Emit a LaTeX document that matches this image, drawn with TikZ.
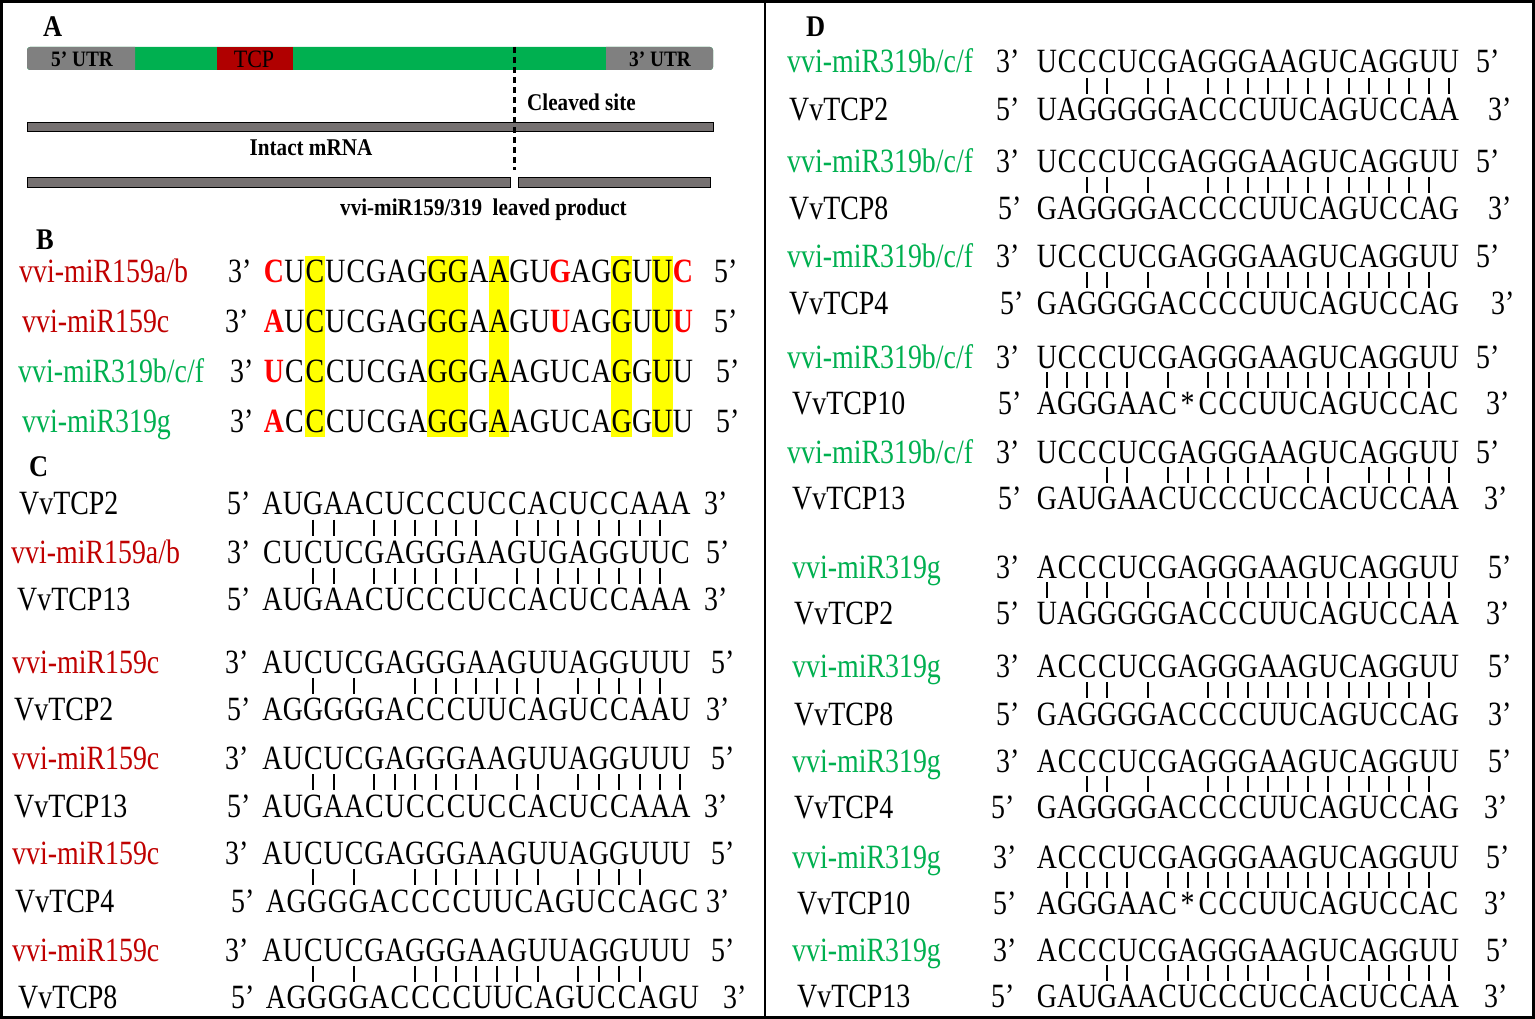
\documentclass[tikz,border=0pt]{standalone}
\usepackage{fontspec}
\setmainfont{Liberation Serif}
\newfontfamily\sq{Liberation Serif}[FakeStretch=0.82]
\newfontfamily\sqb{Liberation Serif}[FakeStretch=0.88]
\usetikzlibrary{calc}
\definecolor{mirred}{RGB}{192,0,0}
\definecolor{mirgreen}{RGB}{0,176,80}
\definecolor{hly}{RGB}{255,255,0}
\definecolor{barg}{RGB}{0,176,80}
\definecolor{utrgrey}{RGB}{128,128,128}
\definecolor{tcpred}{RGB}{176,0,0}
\definecolor{linegrey}{RGB}{118,113,113}
\def\seqfont{\sq\fontsize{34}{38}\selectfont}
\def\boldfont{\sqb\bfseries\fontsize{24}{28}\selectfont}
\def\panelfont{\sqb\bfseries\fontsize{30}{34}\selectfont}
\def\rl{\color{red}\bfseries}
\newcount\seqi
\def\seqrow#1#2#3#4#5{\def\sqid{#1}\def\sqx{#2}\def\sqp{#3}\def\sqy{#4}\global\seqi=0 \seqloop#5\relax}
\def\seqloop#1{\ifx\relax#1\else\global\advance\seqi by 1 \node[let,name=\sqid-\the\seqi] at ({\sqx+(\the\seqi-1)*\sqp},{\sqy+11}) {#1};\expandafter\seqloop\fi}
\newcommand\bars[4]{\foreach \k in {#4} {\draw[pairbar] ({round(#1+(\k-1)*#2)},{#3-8}) -- ++(0,16);}}
\tikzset{
  txt/.style={anchor=base west, inner sep=0pt, font=\seqfont},
  let/.style={anchor=base, inner sep=0pt, font=\seqfont},
  m159/.style={txt, text=mirred},
  m319/.style={txt, text=mirgreen},
  pairbar/.style={line width=2pt},
  hlbox/.style={fill=hly, draw=none},
  btxt/.style={inner sep=0pt, font=\boldfont},
  utrtxt/.style={inner sep=0pt, font=\sqb\bfseries\fontsize{22}{26}\selectfont},
  tcptxt/.style={inner sep=0pt, font=\sqb\fontsize{25}{28}\selectfont},
  panel/.style={anchor=base west, inner sep=0pt, font=\panelfont},
  rnabar/.style={fill=linegrey, draw=black, line width=0.6pt},
}
\begin{document}
\begin{tikzpicture}[x=1pt,y=-1pt]
\useasboundingbox (0,0) rectangle (1535,1019);
\fill[white] (0,0) rectangle (1535,1019);
% ---------------- Panel A ----------------
\node[panel] (pA) at (43,37) {A};
\fill[barg, rounded corners=3pt] (27,47) rectangle (713,70);
\fill[utrgrey] (135,47) [rounded corners=3pt] -- (27,47) -- (27,70) [sharp corners] -- (135,70) -- cycle;
\fill[utrgrey] (606,47) [rounded corners=3pt] -- (713,47) -- (713,70) [sharp corners] -- (606,70) -- cycle;
\fill[tcpred] (217,47) rectangle (293,70);
\node[utrtxt] (utr5) at (82,59) {5’ UTR};
\node[tcptxt] (tcp) at (254,59) {TCP};
\node[utrtxt] (utr3) at (660,59) {3’ UTR};
\draw[rnabar] (27,122) rectangle (713,131);
\draw[rnabar] (27,177) rectangle (510,187);
\draw[rnabar] (518,177) rectangle (710,187);
\coordinate (cuttop) at (514.5,47);
\coordinate (cutbot) at (514.5,170);
\draw[line width=2.2pt, dash pattern=on 6pt off 4pt] (cuttop) -- (cutbot);
\node[btxt, anchor=base west] (cleave) at (527,111) {Cleaved site};
\node[btxt, anchor=base] (intact) at (311,156) {Intact mRNA};
\node[btxt, anchor=base west] (prod) at (340,216) {vvi-miR159/319\ \ leaved product};
% ---------------- Panel B ----------------
\node[panel] (pB) at (36,250) {B};
\def\Bx{274}\def\Bp{20.45}
\foreach \a/\b in {3/3, 9/10, 12/12, 18/18, 20/20}
  \fill[hlbox] ({\Bx+(\a-1)*\Bp-10.2},256) rectangle ({\Bx+(\b-1)*\Bp+10.2},437);
\node[m159] (bl1) at (19,283) {vvi-miR159a/b};
\node[txt] (b1l) at (228,283) {3’};
\seqrow{b1}{\Bx}{\Bp}{272}{{\rl C}UCUCGAGGGAAGU{\rl G}AGGUU{\rl C}}
\node[txt] (b1r) at (714,283) {5’};
\node[m159] (bl2) at (22,332) {vvi-miR159c};
\node[txt] (b2l) at (225,332) {3’};
\seqrow{b2}{\Bx}{\Bp}{321}{{\rl A}UCUCGAGGGAAGU{\rl U}AGGUU{\rl U}}
\node[txt] (b2r) at (714,332) {5’};
\node[m319] (bl3) at (18,382) {vvi-miR319b/c/f};
\node[txt] (b3l) at (230,382) {3’};
\seqrow{b3}{\Bx}{\Bp}{371}{{\rl U}CCCUCGAGGGAAGUCAGGUU}
\node[txt] (b3r) at (716,382) {5’};
\node[m319] (bl4) at (22,432) {vvi-miR319g};
\node[txt] (b4l) at (230,432) {3’};
\seqrow{b4}{\Bx}{\Bp}{421}{{\rl A}CCCUCGAGGGAAGUCAGGUU}
\node[txt] (b4r) at (716,432) {5’};
% ---------------- Panel C ----------------
\node[panel] (pC) at (29,476) {C};
\def\Cx{272.5}\def\Cp{20.4}\def\Ctx{276}\def\Ctp{20.65}
% C1
\node[txt] (c1al) at (19,514) {VvTCP2};
\node[txt] (c1am) at (227,514) {5’};
\seqrow{c1a}{\Cx}{\Cp}{503}{AUGAACUCCCUCCA CUCCAAA}
\node[txt] (c1ar) at (704,514) {3’};
\bars{\Cx}{\Cp}{527.5}{3,4,6,7,8,9,10,11,13,14,15,16,17,18,19,20}
\node[m159] (c1bl) at (11,563) {vvi-miR159a/b};
\node[txt] (c1bm) at (227,563) {3’};
\seqrow{c1b}{\Cx}{\Cp}{552}{CUCUCGAGGGAAGUGAGGUUC}
\node[txt] (c1br) at (706,563) {5’};
\bars{\Cx}{\Cp}{575.5}{3,4,6,7,8,9,10,11,13,14,15,16,17,18,19,20}
\node[txt] (c1cl) at (17,610) {VvTCP13};
\node[txt] (c1cm) at (227,610) {5’};
\seqrow{c1c}{\Cx}{\Cp}{599}{AUGAACUCCCUCCA CUCCAAA}
\node[txt] (c1cr) at (704,610) {3’};
% C2
\node[m159] (c2al) at (12,673) {vvi-miR159c};
\node[txt] (c2am) at (225,673) {3’};
\seqrow{c2a}{\Cx}{\Cp}{662}{AUCUCGAGGGAAGUUAGGUUU}
\node[txt] (c2ar) at (711,673) {5’};
\bars{\Cx}{\Cp}{685.5}{3,5,8,9,10,11,12,13,14,16,17,18,19,20}
\node[txt] (c2bl) at (14,720) {VvTCP2};
\node[txt] (c2bm) at (227,720) {5’};
\seqrow{c2b}{\Cx}{\Cp}{709}{AGGGGGACCCUUCAGUCCAAU}
\node[txt] (c2br) at (706,720) {3’};
% C3
\node[m159] (c3al) at (12,769) {vvi-miR159c};
\node[txt] (c3am) at (225,769) {3’};
\seqrow{c3a}{\Cx}{\Cp}{758}{AUCUCGAGGGAAGUUAGGUUU}
\node[txt] (c3ar) at (711,769) {5’};
\bars{\Cx}{\Cp}{782}{3,4,6,7,8,9,10,11,13,14,16,17,18,19,20,21}
\node[txt] (c3bl) at (14,817) {VvTCP13};
\node[txt] (c3bm) at (227,817) {5’};
\seqrow{c3b}{\Cx}{\Cp}{806}{AUGAACUCCCUCCA CUCCAAA}
\node[txt] (c3br) at (704,817) {3’};
% C4
\node[m159] (c4al) at (12,864) {vvi-miR159c};
\node[txt] (c4am) at (225,864) {3’};
\seqrow{c4a}{\Cx}{\Cp}{853}{AUCUCGAGGGAAGUUAGGUUU}
\node[txt] (c4ar) at (711,864) {5’};
\bars{\Cx}{\Cp}{877}{3,5,8,9,10,11,12,13,14,16,17,18,19}
\node[txt] (c4bl) at (15,912) {VvTCP4};
\node[txt] (c4bm) at (231,912) {5’};
\seqrow{c4b}{\Ctx}{\Ctp}{901}{AGGGGACCCCUUCAGUCCAGC}
\node[txt] (c4br) at (706,912) {3’};
% C5
\node[m159] (c5al) at (12,961) {vvi-miR159c};
\node[txt] (c5am) at (225,961) {3’};
\seqrow{c5a}{\Cx}{\Cp}{950}{AUCUCGAGGGAAGUUAGGUUU}
\node[txt] (c5ar) at (711,961) {5’};
\bars{\Cx}{\Cp}{973.5}{3,5,8,9,10,11,12,13,14,16,17,18,19}
\node[txt] (c5bl) at (18,1008) {VvTCP8};
\node[txt] (c5bm) at (231,1008) {5’};
\seqrow{c5b}{\Ctx}{\Ctp}{997}{AGGGGACCCCUUCAGUCCAGU}
\node[txt] (c5br) at (723,1008) {3’};
% ---------------- Panel D ----------------
\node[panel] (pD) at (806,37) {D};
\def\Dx{1047}\def\Dp{20.1}
% D1
\node[m319] (d1al) at (787,73) {vvi-miR319b/c/f};
\node[txt] (d1am) at (996,73) {3’};
\seqrow{d1a}{\Dx}{\Dp}{62}{UCCCUCGAGGGAAGUCAGGUU}
\node[txt] (d1ar) at (1476,73) {5’};
\bars{\Dx}{\Dp}{86}{3,4,6,7,9,10,11,12,13,14,15,16,17,18,19,20,21}
\node[txt] (d1bl) at (789,121) {VvTCP2};
\node[txt] (d1bm) at (996,121) {5’};
\seqrow{d1b}{\Dx}{\Dp}{110}{UAGGGGGACCCUUCAGUCCAA}
\node[txt] (d1br) at (1488,121) {3’};
% D2
\node[m319] (d2al) at (787,173) {vvi-miR319b/c/f};
\node[txt] (d2am) at (996,173) {3’};
\seqrow{d2a}{\Dx}{\Dp}{162}{UCCCUCGAGGGAAGUCAGGUU}
\node[txt] (d2ar) at (1476,173) {5’};
\bars{\Dx}{\Dp}{185.5}{3,4,6,9,10,11,12,13,14,15,16,17,18,19,20}
\node[txt] (d2bl) at (789,220) {VvTCP8};
\node[txt] (d2bm) at (998,220) {5’};
\seqrow{d2b}{\Dx}{\Dp}{209}{GAGGGGACCCCUUCAGUCCAG}
\node[txt] (d2br) at (1488,220) {3’};
% D3
\node[m319] (d3al) at (787,268) {vvi-miR319b/c/f};
\node[txt] (d3am) at (996,268) {3’};
\seqrow{d3a}{\Dx}{\Dp}{257}{UCCCUCGAGGGAAGUCAGGUU}
\node[txt] (d3ar) at (1476,268) {5’};
\bars{\Dx}{\Dp}{280.5}{3,4,6,9,10,11,12,13,14,15,16,17,18,19,20}
\node[txt] (d3bl) at (789,315) {VvTCP4};
\node[txt] (d3bm) at (1000,315) {5’};
\seqrow{d3b}{\Dx}{\Dp}{304}{GAGGGGACCCCUUCAGUCCAG}
\node[txt] (d3br) at (1491,315) {3’};
% D4
\node[m319] (d4al) at (787,368) {vvi-miR319b/c/f};
\node[txt] (d4am) at (996,368) {3’};
\seqrow{d4a}{\Dx}{\Dp}{357}{UCCCUCGAGGGAAGUCAGGUU}
\node[txt] (d4ar) at (1476,368) {5’};
\bars{\Dx}{\Dp}{380}{1,2,3,4,5,7,9,10,11,12,13,14,15,16,17,18,19,20}
\node[txt] (d4bl) at (792,414) {VvTCP10};
\node[txt] (d4bm) at (998,414) {5’};
\seqrow{d4b}{\Dx}{\Dp}{403}{AGGGAAC*CCCUUCAGUCCAC}
\node[txt] (d4br) at (1486,414) {3’};
% D5
\node[m319] (d5al) at (787,463) {vvi-miR319b/c/f};
\node[txt] (d5am) at (996,463) {3’};
\seqrow{d5a}{\Dx}{\Dp}{452}{UCCCUCGAGGGAAGUCAGGUU}
\node[txt] (d5ar) at (1476,463) {5’};
\bars{\Dx}{\Dp}{475}{4,5,7,8,9,10,11,12,14,15,17,18,19,20,21}
\node[txt] (d5bl) at (792,509) {VvTCP13};
\node[txt] (d5bm) at (998,509) {5’};
\seqrow{d5b}{\Dx}{\Dp}{498}{GAUGAACUCCCUCCACUCCAA}
\node[txt] (d5br) at (1484,509) {3’};
% D6
\node[m319] (d6al) at (792,578) {vvi-miR319g};
\node[txt] (d6am) at (996,578) {3’};
\seqrow{d6a}{\Dx}{\Dp}{567}{ACCCUCGAGGGAAGUCAGGUU}
\node[txt] (d6ar) at (1488,578) {5’};
\bars{\Dx}{\Dp}{590}{1,3,4,6,9,10,11,12,13,14,15,16,17,18,19,20,21}
\node[txt] (d6bl) at (794,624) {VvTCP2};
\node[txt] (d6bm) at (996,624) {5’};
\seqrow{d6b}{\Dx}{\Dp}{613}{UAGGGGGACCCUUCAGUCCAA}
\node[txt] (d6br) at (1486,624) {3’};
% D7
\node[m319] (d7al) at (792,677) {vvi-miR319g};
\node[txt] (d7am) at (996,677) {3’};
\seqrow{d7a}{\Dx}{\Dp}{666}{ACCCUCGAGGGAAGUCAGGUU}
\node[txt] (d7ar) at (1488,677) {5’};
\bars{\Dx}{\Dp}{690}{3,4,6,9,10,11,12,13,14,15,16,17,18,19,20}
\node[txt] (d7bl) at (794,725) {VvTCP8};
\node[txt] (d7bm) at (996,725) {5’};
\seqrow{d7b}{\Dx}{\Dp}{714}{GAGGGGACCCCUUCAGUCCAG}
\node[txt] (d7br) at (1488,725) {3’};
% D8
\node[m319] (d8al) at (792,772) {vvi-miR319g};
\node[txt] (d8am) at (996,772) {3’};
\seqrow{d8a}{\Dx}{\Dp}{761}{ACCCUCGAGGGAAGUCAGGUU}
\node[txt] (d8ar) at (1488,772) {5’};
\bars{\Dx}{\Dp}{784}{3,4,6,9,10,11,12,13,14,15,16,17,18,19,20}
\node[txt] (d8bl) at (794,818) {VvTCP4};
\node[txt] (d8bm) at (991,818) {5’};
\seqrow{d8b}{\Dx}{\Dp}{807}{GAGGGGACCCCUUCAGUCCAG}
\node[txt] (d8br) at (1484,818) {3’};
% D9
\node[m319] (d9al) at (792,868) {vvi-miR319g};
\node[txt] (d9am) at (993,868) {3’};
\seqrow{d9a}{\Dx}{\Dp}{857}{ACCCUCGAGGGAAGUCAGGUU}
\node[txt] (d9ar) at (1486,868) {5’};
\bars{\Dx}{\Dp}{880}{2,3,4,5,7,8,9,10,11,12,13,14,15,16,17,18,19,20}
\node[txt] (d9bl) at (797,914) {VvTCP10};
\node[txt] (d9bm) at (993,914) {5’};
\seqrow{d9b}{\Dx}{\Dp}{903}{AGGGAAC*CCCUUCAGUCCAC}
\node[txt] (d9br) at (1484,914) {3’};
% D10
\node[m319] (d10al) at (792,961) {vvi-miR319g};
\node[txt] (d10am) at (993,961) {3’};
\seqrow{d10a}{\Dx}{\Dp}{950}{ACCCUCGAGGGAAGUCAGGUU}
\node[txt] (d10ar) at (1486,961) {5’};
\bars{\Dx}{\Dp}{973}{4,5,7,8,9,10,11,12,14,15,17,18,19,20,21}
\node[txt] (d10bl) at (797,1007) {VvTCP13};
\node[txt] (d10bm) at (991,1007) {5’};
\seqrow{d10b}{\Dx}{\Dp}{996}{GAUGAACUCCCUCCACUCCAA}
\node[txt] (d10br) at (1484,1007) {3’};
% ---------------- Frame ----------------
\draw[line width=2pt] (765,0) -- (765,1019);
\draw[line width=3pt] (1.5,1.5) rectangle (1533.5,1017.5);
\end{tikzpicture}
\end{document}
